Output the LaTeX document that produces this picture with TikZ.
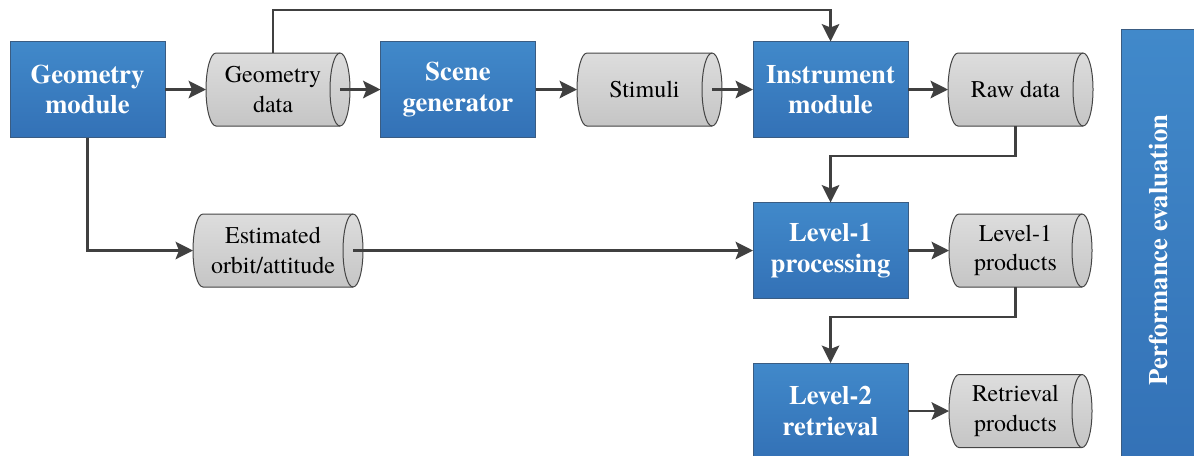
\documentclass[tikz,border=0pt]{standalone}
\usepackage{fontspec}
\setmainfont{TeX Gyre Termes}
\usetikzlibrary{arrows.meta,backgrounds}

\definecolor{boxtop}{HTML}{4189CA}
\definecolor{boxbot}{HTML}{3371B6}
\definecolor{boxedge}{HTML}{3A5C82}
\definecolor{storetop}{HTML}{DDDDDD}
\definecolor{storebot}{HTML}{C5C5C5}
\definecolor{storeedge}{HTML}{454545}
\definecolor{linkgrey}{HTML}{404040}
\definecolor{shadowgrey}{HTML}{E4E4E4}

% outline of a horizontal data store: left end rounded, right end an open ellipse
\newcommand\storepath[1]{%
  ([xshift=7.5pt]#1.north west) -- (#1.north east)
  arc[start angle=90,end angle=-90,x radius=7.5pt,y radius=27.375pt]
  -- ([xshift=7.5pt]#1.south west)
  arc[start angle=270,end angle=90,x radius=7.5pt,y radius=27.375pt] -- cycle}

\newcommand\storeshape[1]{%
  \fill[shadowgrey] [shift={(3pt,-3pt)}] \storepath{#1};
  \draw[storeedge,line width=0.75pt,top color=storetop,bottom color=storebot] \storepath{#1};
  \draw[storeedge,line width=0.75pt] (#1.north east)
    arc[start angle=90,end angle=270,x radius=7.5pt,y radius=27.375pt];}

\begin{document}
\begin{tikzpicture}[x=0.75pt,y=-0.75pt,
  module/.style={rectangle,draw=boxedge,line width=0.75pt,
    top color=boxtop,bottom color=boxbot,text=white,
    font=\fontsize{20}{23}\selectfont\bfseries,align=center,
    minimum width=116.25pt,minimum height=72pt,inner sep=0pt,outer sep=0pt},
  store/.style={rectangle,minimum height=54.75pt,inner sep=0pt,outer sep=0pt,
    align=center,font=\fontsize{18}{22}\selectfont},
  flow/.style={draw=linkgrey,line width=2.2pt,
    -{Stealth[length=13pt,width=13pt,inset=2.5pt]}}]

\useasboundingbox (0,0) rectangle (1194,455);
\clip (0,0) rectangle (1194,455);

% processing modules
\node[module] (gm) at (87.5,89.5) {Geometry\\module};
\node[module] (sg) at (458,89.5) {Scene\\generator};
\node[module] (im) at (830.5,89.5) {Instrument\\module};
\node[module] (l1) at (830.5,250.5) {Level-1\\processing};
\node[module] (l2) at (830.5,411) {Level-2\\retrieval};

% evaluation bar along the right side
\node[module,rotate=90,minimum width=331.5pt,minimum height=56.25pt]
  (pe) at (1158.5,250) {Performance evaluation};

% data stores (text nodes; the outline is drawn behind them)
\node[store,minimum width=100.5pt] (gd) at (273,89.5) {Geometry\\data};
\node[store,minimum width=101.25pt] (st) at (644.5,89.5) {Stimuli};
\node[store,minimum width=101.25pt] (rd) at (1015.5,89.5) {Raw data};
\node[store,minimum width=120pt] (eo) at (273,250.5) {Estimated\\orbit/attitude};
\node[store,minimum width=99.75pt] (lp) at (1015.5,250.5) {Level-1\\products};
\node[store,minimum width=99.75pt] (rp) at (1015.5,411) {Retrieval\\products};

\begin{pgfonlayer}{background}
  \storeshape{gd}
  \storeshape{st}
  \storeshape{rd}
  \storeshape{eo}
  \storeshape{lp}
  \storeshape{rp}
\end{pgfonlayer}

% data flow
\draw[flow] (gm.east) -- (gd.west);
\draw[flow] (gd.east) -- (sg.west);
\draw[flow] (sg.east) -- (st.west);
\draw[flow] (st.east) -- (im.west);
\draw[flow] (im.east) -- (rd.west);
\draw[flow] (gd.north) -- ++(0,-43) -| (im.north);
\draw[flow] (rd.south) -- ++(0,30) -| (l1.north);
\draw[flow] (gm.south) |- (eo.west);
\draw[flow] (eo.east) -- (l1.west);
\draw[flow] (l1.east) -- (lp.west);
\draw[flow] (lp.south) -- ++(0,30) -| (l2.north);
\draw[flow] (l2.east) -- (rp.west);
\end{tikzpicture}
\end{document}
